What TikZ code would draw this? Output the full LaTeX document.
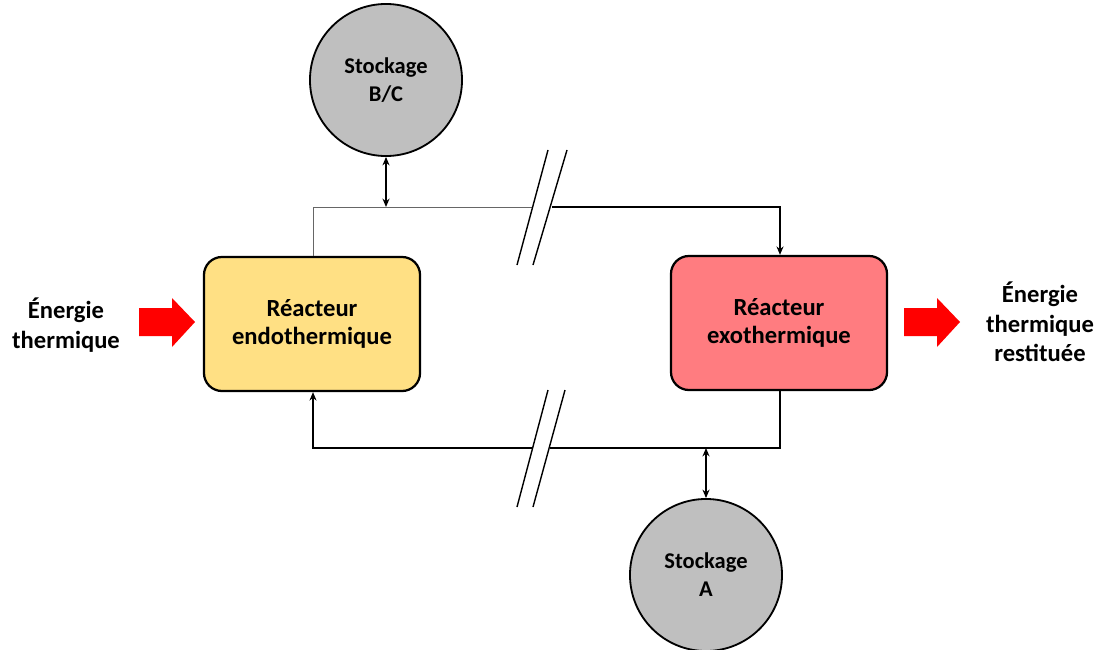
\documentclass[tikz,border=0pt]{standalone}
\usepackage{fontspec}
\setmainfont{Carlito}
\usepackage{tikz}
\usetikzlibrary{arrows.meta,positioning}
\definecolor{eYellow}{HTML}{FFE084}
\definecolor{eRose}{HTML}{FF7C80}
\definecolor{eGray}{HTML}{BFBFBF}
\definecolor{eRed}{HTML}{FF0000}
\tikzset{reac/.style={draw, line width=1.6pt, rounded corners=0.45cm,
  minimum width=5.4cm, minimum height=3.35cm, align=center,
  font=\fontsize{17.5}{20.5}\selectfont\bfseries}}
\tikzset{stock/.style={circle, draw, line width=1.3pt, fill=eGray,
  minimum size=3.8cm, align=center, font=\fontsize{16}{20}\selectfont\bfseries}}
\tikzset{lbl/.style={align=center, font=\fontsize{17.5}{21}\selectfont\bfseries}}
\tikzset{heat/.style={fill=eRed, draw=none}}
\tikzset{ln/.style={draw, line width=1pt}}
\tikzset{lg/.style={draw, line width=0.6pt, black!60}}
\tikzset{dd/.style={draw, line width=1pt, {Stealth[length=6pt,width=5pt]}-{Stealth[length=6pt,width=5pt]}}}
\tikzset{aa/.style={draw, line width=1pt, -{Stealth[length=6pt,width=5pt]}}}

\begin{document}
\begin{tikzpicture}[x=0.025cm, y=-0.025cm]
  \useasboundingbox (0,0) rectangle (1097,650);
  %%
  \node (endo) at (312,324) [reac, fill=eYellow] {Réacteur\\endothermique};
  \node (exo) at (779,323) [reac, fill=eRose] {Réacteur\\exothermique};
  \node (stBC) at (386,80) [stock] {Stockage\\B/C};
  \node (stA) at (706,575) [stock] {Stockage\\A};
  %%
  \node (inE) at (66,325) [lbl] {Énergie\\thermique};
  \node (outE) at (1040,322) [lbl] {Énergie\\thermique\\restituée};
  \foreach \x in {139, 904}
    \path[heat] (\x,308) -- ++(33,0) -- ++(0,-10) -- ++(23,24)
      -- ++(-23,25) -- ++(0,-11) -- ++(-33,0) -- cycle;
  %%
  \coordinate (tl) at (313,207);
  \coordinate (tm) at (386,207);
  \coordinate (tb1) at (532,207);
  \coordinate (tb2) at (552,207);
  \coordinate (tr) at (780,207);
  \coordinate (bl) at (313,448);
  \coordinate (bm) at (706,448);
  \coordinate (bb1) at (532,448);
  \coordinate (bb2) at (550,448);
  \coordinate (br) at (780,448);
  %%
  \path[lg] (endo.north -| tl) -- (tl) -- (tb1);
  \path[aa] (tb2) -- (tr) -- (exo.north -| tr);
  \path[ln] (exo.south -| br) -- (br) -- (bb2);
  \path[aa] (bb1) -- (bl) -- (endo.south -| bl);
  \path[dd] (stBC.south) -- (tm);
  \path[dd] (stA.north) -- (bm);
  %%
  \path[ln] (517,265) -- (548,150);
  \path[ln] (533,265) -- (567,150);
  \path[ln] (517,507) -- (548,390);
  \path[ln] (533,507) -- (565,390);
\end{tikzpicture}
\end{document}
